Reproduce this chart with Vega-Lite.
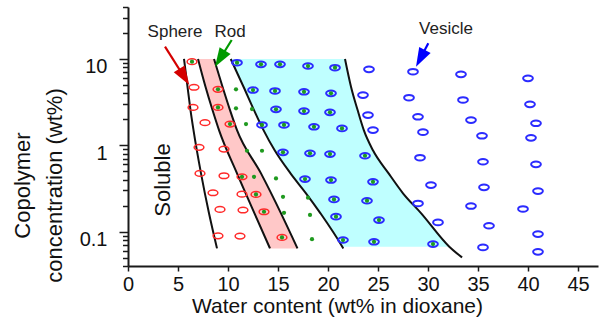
{
  "$schema": "https://vega.github.io/schema/vega-lite/v6.json",
  "width": 470,
  "height": 259,
  "autosize": {"type": "none"},
  "padding": {"left": 128, "top": 7, "right": 5, "bottom": 67},
  "background": "white",
  "config": {
    "view": {"stroke": null},
    "font": "Liberation Sans",
    "axis": {
      "grid": false,
      "domainColor": "#1a1a1a",
      "domainWidth": 2,
      "tickColor": "#1a1a1a",
      "tickWidth": 1.5,
      "labelColor": "#111111",
      "titleColor": "#111111",
      "labelFont": "Liberation Sans",
      "titleFont": "Liberation Sans",
      "titleFontWeight": "normal"
    }
  },
  "datasets": {
    "regions": [
      {"region": "pink", "y": 10, "xl": 7.0, "xr": 8.6},
      {"region": "pink", "y": 4.77, "xl": 7.75, "xr": 9.45},
      {"region": "pink", "y": 2.56, "xl": 8.45, "xr": 10.2},
      {"region": "pink", "y": 1.5, "xl": 9.1, "xr": 10.9},
      {"region": "pink", "y": 0.473, "xl": 10.9, "xr": 13.3},
      {"region": "pink", "y": 0.163, "xl": 12.65, "xr": 15.3},
      {"region": "pink", "y": 0.064, "xl": 14.2, "xr": 16.95},
      {"region": "cyan", "y": 10, "xl": 10.27, "xr": 21.7},
      {"region": "cyan", "y": 4.77, "xl": 11.55, "xr": 22.3},
      {"region": "cyan", "y": 2.56, "xl": 12.6, "xr": 22.96},
      {"region": "cyan", "y": 1.5, "xl": 13.55, "xr": 23.58},
      {"region": "cyan", "y": 0.881, "xl": 14.65, "xr": 24.48},
      {"region": "cyan", "y": 0.473, "xl": 16.25, "xr": 26.06},
      {"region": "cyan", "y": 0.278, "xl": 17.8, "xr": 27.5},
      {"region": "cyan", "y": 0.163, "xl": 19.25, "xr": 29.32},
      {"region": "cyan", "y": 0.067, "xl": 21.43, "xr": 32.13}
    ],
    "curves": [
      {"c": "L1", "x": 5.6, "y": 10}, {"c": "L1", "x": 5.95, "y": 4.77}, {"c": "L1", "x": 6.25, "y": 2.56}, {"c": "L1", "x": 6.55, "y": 1.5}, {"c": "L1", "x": 7.3, "y": 0.473}, {"c": "L1", "x": 8.1, "y": 0.163}, {"c": "L1", "x": 8.9, "y": 0.064},
      {"c": "L2", "x": 7.0, "y": 10}, {"c": "L2", "x": 7.75, "y": 4.77}, {"c": "L2", "x": 8.45, "y": 2.56}, {"c": "L2", "x": 9.1, "y": 1.5}, {"c": "L2", "x": 10.9, "y": 0.473}, {"c": "L2", "x": 12.65, "y": 0.163}, {"c": "L2", "x": 14.2, "y": 0.064},
      {"c": "L3", "x": 8.6, "y": 10}, {"c": "L3", "x": 9.45, "y": 4.77}, {"c": "L3", "x": 10.2, "y": 2.56}, {"c": "L3", "x": 10.9, "y": 1.5}, {"c": "L3", "x": 13.3, "y": 0.473}, {"c": "L3", "x": 15.3, "y": 0.163}, {"c": "L3", "x": 16.95, "y": 0.064},
      {"c": "L4", "x": 10.27, "y": 10}, {"c": "L4", "x": 11.55, "y": 4.77}, {"c": "L4", "x": 12.6, "y": 2.56}, {"c": "L4", "x": 13.55, "y": 1.5}, {"c": "L4", "x": 14.65, "y": 0.881}, {"c": "L4", "x": 16.25, "y": 0.473}, {"c": "L4", "x": 17.8, "y": 0.278}, {"c": "L4", "x": 19.25, "y": 0.163}, {"c": "L4", "x": 21.43, "y": 0.067}, {"c": "L4", "x": 21.53, "y": 0.064},
      {"c": "L5", "x": 21.7, "y": 10}, {"c": "L5", "x": 22.3, "y": 4.77}, {"c": "L5", "x": 22.96, "y": 2.56}, {"c": "L5", "x": 23.58, "y": 1.5}, {"c": "L5", "x": 24.48, "y": 0.881}, {"c": "L5", "x": 26.06, "y": 0.473}, {"c": "L5", "x": 27.5, "y": 0.278}, {"c": "L5", "x": 29.32, "y": 0.163}, {"c": "L5", "x": 32.13, "y": 0.067}, {"c": "L5", "x": 33.4, "y": 0.0503}
    ],
    "points": [
      {"x": 6.4, "y": 9.3, "phase": "sphere", "rodDot": 1},
      {"x": 6.6, "y": 4.7, "phase": "sphere", "rodDot": 0},
      {"x": 9.0, "y": 4.45, "phase": "sphere", "rodDot": 1},
      {"x": 6.5, "y": 2.75, "phase": "sphere", "rodDot": 0},
      {"x": 9.0, "y": 2.75, "phase": "sphere", "rodDot": 1},
      {"x": 7.7, "y": 1.83, "phase": "sphere", "rodDot": 0},
      {"x": 10.2, "y": 1.76, "phase": "sphere", "rodDot": 1},
      {"x": 7.1, "y": 0.947, "phase": "sphere", "rodDot": 0},
      {"x": 9.6, "y": 0.905, "phase": "sphere", "rodDot": 0},
      {"x": 7.2, "y": 0.473, "phase": "sphere", "rodDot": 0},
      {"x": 9.6, "y": 0.444, "phase": "sphere", "rodDot": 0},
      {"x": 11.4, "y": 0.432, "phase": "sphere", "rodDot": 1},
      {"x": 8.5, "y": 0.282, "phase": "sphere", "rodDot": 0},
      {"x": 11.4, "y": 0.272, "phase": "sphere", "rodDot": 0},
      {"x": 12.8, "y": 0.27, "phase": "sphere", "rodDot": 1},
      {"x": 9.2, "y": 0.181, "phase": "sphere", "rodDot": 0},
      {"x": 11.5, "y": 0.178, "phase": "sphere", "rodDot": 0},
      {"x": 13.6, "y": 0.17, "phase": "sphere", "rodDot": 1},
      {"x": 9.0, "y": 0.0895, "phase": "sphere", "rodDot": 0},
      {"x": 11.2, "y": 0.0888, "phase": "sphere", "rodDot": 0},
      {"x": 15.4, "y": 0.0858, "phase": "sphere", "rodDot": 1},
      {"x": 10.8, "y": 4.45, "phase": "rod", "rodDot": 1},
      {"x": 10.8, "y": 2.68, "phase": "rod", "rodDot": 1},
      {"x": 12.4, "y": 2.63, "phase": "rod", "rodDot": 1},
      {"x": 11.8, "y": 1.76, "phase": "rod", "rodDot": 1},
      {"x": 11.9, "y": 0.865, "phase": "rod", "rodDot": 1},
      {"x": 13.4, "y": 0.865, "phase": "rod", "rodDot": 1},
      {"x": 12.6, "y": 0.432, "phase": "rod", "rodDot": 1},
      {"x": 14.8, "y": 0.414, "phase": "rod", "rodDot": 1},
      {"x": 15.5, "y": 0.253, "phase": "rod", "rodDot": 1},
      {"x": 18.0, "y": 0.247, "phase": "rod", "rodDot": 1},
      {"x": 15.6, "y": 0.165, "phase": "rod", "rodDot": 1},
      {"x": 18.2, "y": 0.156, "phase": "rod", "rodDot": 1},
      {"x": 18.4, "y": 0.0819, "phase": "rod", "rodDot": 1},
      {"x": 10.9, "y": 9.05, "phase": "vesicle", "rodDot": 1},
      {"x": 13.3, "y": 8.67, "phase": "vesicle", "rodDot": 1},
      {"x": 15.2, "y": 8.67, "phase": "vesicle", "rodDot": 1},
      {"x": 18.0, "y": 8.29, "phase": "vesicle", "rodDot": 1},
      {"x": 20.7, "y": 7.92, "phase": "vesicle", "rodDot": 1},
      {"x": 12.5, "y": 4.37, "phase": "vesicle", "rodDot": 1},
      {"x": 14.7, "y": 4.26, "phase": "vesicle", "rodDot": 1},
      {"x": 17.6, "y": 4.17, "phase": "vesicle", "rodDot": 1},
      {"x": 20.3, "y": 4.0, "phase": "vesicle", "rodDot": 1},
      {"x": 14.8, "y": 2.61, "phase": "vesicle", "rodDot": 1},
      {"x": 17.6, "y": 2.49, "phase": "vesicle", "rodDot": 1},
      {"x": 20.2, "y": 2.41, "phase": "vesicle", "rodDot": 1},
      {"x": 13.4, "y": 1.72, "phase": "vesicle", "rodDot": 1},
      {"x": 15.6, "y": 1.72, "phase": "vesicle", "rodDot": 1},
      {"x": 18.6, "y": 1.64, "phase": "vesicle", "rodDot": 1},
      {"x": 21.4, "y": 1.57, "phase": "vesicle", "rodDot": 1},
      {"x": 15.5, "y": 0.829, "phase": "vesicle", "rodDot": 1},
      {"x": 18.2, "y": 0.807, "phase": "vesicle", "rodDot": 1},
      {"x": 20.2, "y": 0.792, "phase": "vesicle", "rodDot": 1},
      {"x": 23.7, "y": 0.757, "phase": "vesicle", "rodDot": 1},
      {"x": 17.7, "y": 0.406, "phase": "vesicle", "rodDot": 1},
      {"x": 20.3, "y": 0.396, "phase": "vesicle", "rodDot": 1},
      {"x": 24.5, "y": 0.378, "phase": "vesicle", "rodDot": 1},
      {"x": 20.6, "y": 0.236, "phase": "vesicle", "rodDot": 1},
      {"x": 23.9, "y": 0.228, "phase": "vesicle", "rodDot": 1},
      {"x": 20.8, "y": 0.149, "phase": "vesicle", "rodDot": 1},
      {"x": 25.1, "y": 0.136, "phase": "vesicle", "rodDot": 1},
      {"x": 21.5, "y": 0.08, "phase": "vesicle", "rodDot": 1},
      {"x": 24.6, "y": 0.0763, "phase": "vesicle", "rodDot": 1},
      {"x": 30.5, "y": 0.0718, "phase": "vesicle", "rodDot": 1},
      {"x": 24.1, "y": 7.59, "phase": "vesicle", "rodDot": 0},
      {"x": 28.5, "y": 7.12, "phase": "vesicle", "rodDot": 0},
      {"x": 33.3, "y": 6.64, "phase": "vesicle", "rodDot": 0},
      {"x": 40.0, "y": 5.97, "phase": "vesicle", "rodDot": 0},
      {"x": 23.5, "y": 3.82, "phase": "vesicle", "rodDot": 0},
      {"x": 28.1, "y": 3.56, "phase": "vesicle", "rodDot": 0},
      {"x": 33.5, "y": 3.35, "phase": "vesicle", "rodDot": 0},
      {"x": 40.2, "y": 2.98, "phase": "vesicle", "rodDot": 0},
      {"x": 24.0, "y": 2.24, "phase": "vesicle", "rodDot": 0},
      {"x": 29.0, "y": 2.14, "phase": "vesicle", "rodDot": 0},
      {"x": 34.3, "y": 1.96, "phase": "vesicle", "rodDot": 0},
      {"x": 40.8, "y": 1.8, "phase": "vesicle", "rodDot": 0},
      {"x": 24.5, "y": 1.5, "phase": "vesicle", "rodDot": 0},
      {"x": 29.5, "y": 1.42, "phase": "vesicle", "rodDot": 0},
      {"x": 35.4, "y": 1.29, "phase": "vesicle", "rodDot": 0},
      {"x": 40.3, "y": 1.22, "phase": "vesicle", "rodDot": 0},
      {"x": 29.2, "y": 0.718, "phase": "vesicle", "rodDot": 0},
      {"x": 35.5, "y": 0.645, "phase": "vesicle", "rodDot": 0},
      {"x": 40.8, "y": 0.602, "phase": "vesicle", "rodDot": 0},
      {"x": 30.3, "y": 0.346, "phase": "vesicle", "rodDot": 0},
      {"x": 35.6, "y": 0.326, "phase": "vesicle", "rodDot": 0},
      {"x": 41.0, "y": 0.295, "phase": "vesicle", "rodDot": 0},
      {"x": 29.0, "y": 0.212, "phase": "vesicle", "rodDot": 0},
      {"x": 34.3, "y": 0.198, "phase": "vesicle", "rodDot": 0},
      {"x": 39.5, "y": 0.183, "phase": "vesicle", "rodDot": 0},
      {"x": 31.0, "y": 0.128, "phase": "vesicle", "rodDot": 0},
      {"x": 36.1, "y": 0.117, "phase": "vesicle", "rodDot": 0},
      {"x": 41.0, "y": 0.0937, "phase": "vesicle", "rodDot": 0},
      {"x": 35.5, "y": 0.0657, "phase": "vesicle", "rodDot": 0},
      {"x": 41.0, "y": 0.0584, "phase": "vesicle", "rodDot": 0}
    ],
    "arrows": [
      {"phase": "Sphere", "x": 3.7, "y": 13.9, "x2": 5.65, "y2": 6.1, "tx": 6.13, "ty": 5.0, "lx": 4.7, "ly": 20.7},
      {"phase": "Rod", "x": 10.37, "y": 16.6, "x2": 9.18, "y2": 10.0, "tx": 8.7, "ty": 8.13, "lx": 10.2, "ly": 20.7},
      {"phase": "Vesicle", "x": 30.03, "y": 15.2, "x2": 29.22, "y2": 10.07, "tx": 28.8, "ty": 8.13, "lx": 31.8, "ly": 22.0}
    ],
    "notes": [
      {"t": "Soluble", "x": 3.53, "y": 0.396}
    ]
  },
  "layer": [
    {
      "data": {"name": "regions"},
      "transform": [{"filter": "datum.region === 'pink'"}],
      "mark": {"type": "area", "orient": "horizontal", "color": "#ffc8c8", "opacity": 1, "interpolate": "monotone"},
      "encoding": {
        "y": {
          "field": "y", "type": "quantitative",
          "scale": {"type": "log", "domain": [0.04, 40], "nice": false},
          "axis": {
            "orient": "left", "values": [0.1, 1, 10], "format": "~g",
            "tickSize": 9, "labelFontSize": 20, "labelPadding": 12, "labelOffset": 8,
            "labelFlush": false, "labelOverlap": false,
            "title": ["Copolymer", "concentration (wt%)"],
            "titleFontSize": 22, "titleAngle": -90, "titleX": -99, "titleY": 178,
            "titleAlign": "center", "titleBaseline": "alphabetic", "titleLineHeight": 32
          }
        },
        "x": {
          "field": "xl", "type": "quantitative",
          "scale": {"domain": [0, 47], "nice": false, "zero": false},
          "axis": {
            "values": [0, 5, 10, 15, 20, 25, 30, 35, 40, 45],
            "tickSize": 5, "labelFontSize": 20, "labelPadding": 3, "labelFlush": false,
            "title": "Water content (wt% in dioxane)", "titleFontSize": 21,
            "titleX": 209, "titleY": 46, "titleBaseline": "alphabetic", "titleAlign": "center"
          }
        },
        "x2": {"field": "xr"}
      }
    },
    {
      "data": {"name": "regions"},
      "transform": [{"filter": "datum.region === 'cyan'"}],
      "mark": {"type": "area", "orient": "horizontal", "color": "#bfffff", "opacity": 1, "interpolate": "monotone"},
      "encoding": {
        "y": {
          "field": "y", "type": "quantitative",
          "scale": {"type": "log", "domain": [0.04, 40], "nice": false},
          "axis": {
            "orient": "left",
            "values": [0.04, 0.05, 0.06, 0.07, 0.08, 0.09, 0.2, 0.3, 0.4, 0.5, 0.6, 0.7, 0.8, 0.9, 2, 3, 4, 5, 6, 7, 8, 9, 20, 30, 40],
            "tickSize": 5.5, "labels": false, "domain": false, "title": null
          }
        },
        "x": {"field": "xl", "type": "quantitative", "scale": {"domain": [0, 47], "nice": false, "zero": false}},
        "x2": {"field": "xr"}
      }
    },
    {
      "data": {"name": "curves"},
      "mark": {"type": "line", "color": "#111111", "strokeWidth": 2, "interpolate": "monotone"},
      "encoding": {
        "x": {"field": "x", "type": "quantitative", "scale": {"domain": [0, 47], "nice": false, "zero": false}},
        "y": {"field": "y", "type": "quantitative", "scale": {"type": "log", "domain": [0.04, 40], "nice": false}, "axis": null},
        "detail": {"field": "c", "type": "nominal"}
      }
    },
    {
      "data": {"name": "points"},
      "transform": [{"filter": "datum.phase === 'sphere'"}],
      "mark": {"type": "point", "shape": "M -1 0 C -1 -0.32 -0.5523 -0.58 0 -0.58 C 0.5523 -0.58 1 -0.32 1 0 C 1 0.32 0.5523 0.58 0 0.58 C -0.5523 0.58 -1 0.32 -1 0 Z", "filled": false, "stroke": "#ff2a2a", "strokeWidth": 1.5, "size": 95, "opacity": 1},
      "encoding": {
        "x": {"field": "x", "type": "quantitative", "scale": {"domain": [0, 47], "nice": false, "zero": false}},
        "y": {"field": "y", "type": "quantitative", "scale": {"type": "log", "domain": [0.04, 40], "nice": false}, "axis": null}
      }
    },
    {
      "data": {"name": "points"},
      "transform": [{"filter": "datum.phase === 'vesicle'"}],
      "mark": {"type": "point", "shape": "M -1 0 C -1 -0.32 -0.5523 -0.58 0 -0.58 C 0.5523 -0.58 1 -0.32 1 0 C 1 0.32 0.5523 0.58 0 0.58 C -0.5523 0.58 -1 0.32 -1 0 Z", "filled": false, "stroke": "#2b2bff", "strokeWidth": 2, "size": 95, "opacity": 1},
      "encoding": {
        "x": {"field": "x", "type": "quantitative", "scale": {"domain": [0, 47], "nice": false, "zero": false}},
        "y": {"field": "y", "type": "quantitative", "scale": {"type": "log", "domain": [0.04, 40], "nice": false}, "axis": null}
      }
    },
    {
      "data": {"name": "points"},
      "transform": [{"filter": "datum.rodDot === 1"}],
      "mark": {"type": "circle", "color": "#1f9a1f", "size": 18, "opacity": 1},
      "encoding": {
        "x": {"field": "x", "type": "quantitative", "scale": {"domain": [0, 47], "nice": false, "zero": false}},
        "y": {"field": "y", "type": "quantitative", "scale": {"type": "log", "domain": [0.04, 40], "nice": false}, "axis": null}
      }
    },
    {
      "data": {"name": "arrows"},
      "mark": {"type": "rule", "strokeWidth": 2.2},
      "encoding": {
        "x": {"field": "x", "type": "quantitative", "scale": {"domain": [0, 47], "nice": false, "zero": false}},
        "y": {"field": "y", "type": "quantitative", "scale": {"type": "log", "domain": [0.04, 40], "nice": false}, "axis": null},
        "x2": {"field": "x2"},
        "y2": {"field": "y2"},
        "color": {"field": "phase", "type": "nominal", "scale": {"domain": ["Sphere", "Rod", "Vesicle"], "range": ["#d40000", "#009a00", "#0000ff"]}, "legend": null}
      }
    },
    {
      "data": {"name": "arrows"},
      "transform": [{"filter": "datum.phase === 'Sphere'"}],
      "mark": {"type": "point", "shape": "M 0 0 L 0.34 1 L -0.34 1 Z", "filled": true, "size": 1444, "angle": 148, "color": "#d40000", "opacity": 1, "strokeWidth": 0},
      "encoding": {
        "x": {"field": "tx", "type": "quantitative", "scale": {"domain": [0, 47], "nice": false, "zero": false}},
        "y": {"field": "ty", "type": "quantitative", "scale": {"type": "log", "domain": [0.04, 40], "nice": false}, "axis": null}
      }
    },
    {
      "data": {"name": "arrows"},
      "transform": [{"filter": "datum.phase === 'Rod'"}],
      "mark": {"type": "point", "shape": "M 0 0 L 0.34 1 L -0.34 1 Z", "filled": true, "size": 1444, "angle": 212, "color": "#009a00", "opacity": 1, "strokeWidth": 0},
      "encoding": {
        "x": {"field": "tx", "type": "quantitative", "scale": {"domain": [0, 47], "nice": false, "zero": false}},
        "y": {"field": "ty", "type": "quantitative", "scale": {"type": "log", "domain": [0.04, 40], "nice": false}, "axis": null}
      }
    },
    {
      "data": {"name": "arrows"},
      "transform": [{"filter": "datum.phase === 'Vesicle'"}],
      "mark": {"type": "point", "shape": "M 0 0 L 0.34 1 L -0.34 1 Z", "filled": true, "size": 1444, "angle": 208, "color": "#0000ff", "opacity": 1, "strokeWidth": 0},
      "encoding": {
        "x": {"field": "tx", "type": "quantitative", "scale": {"domain": [0, 47], "nice": false, "zero": false}},
        "y": {"field": "ty", "type": "quantitative", "scale": {"type": "log", "domain": [0.04, 40], "nice": false}, "axis": null}
      }
    },
    {
      "data": {"name": "arrows"},
      "mark": {"type": "text", "fontSize": 17, "font": "Liberation Sans", "color": "#222222", "align": "center", "baseline": "middle"},
      "encoding": {
        "x": {"field": "lx", "type": "quantitative", "scale": {"domain": [0, 47], "nice": false, "zero": false}},
        "y": {"field": "ly", "type": "quantitative", "scale": {"type": "log", "domain": [0.04, 40], "nice": false}, "axis": null},
        "text": {"field": "phase", "type": "nominal"}
      }
    },
    {
      "data": {"name": "notes"},
      "mark": {"type": "text", "fontSize": 22, "font": "Liberation Sans", "color": "#111111", "align": "center", "baseline": "middle", "angle": 270},
      "encoding": {
        "x": {"field": "x", "type": "quantitative", "scale": {"domain": [0, 47], "nice": false, "zero": false}},
        "y": {"field": "y", "type": "quantitative", "scale": {"type": "log", "domain": [0.04, 40], "nice": false}, "axis": null},
        "text": {"field": "t", "type": "nominal"}
      }
    }
  ],
  "resolve": {"scale": {"x": "shared", "y": "shared"}, "axis": {"y": "independent"}}
}
